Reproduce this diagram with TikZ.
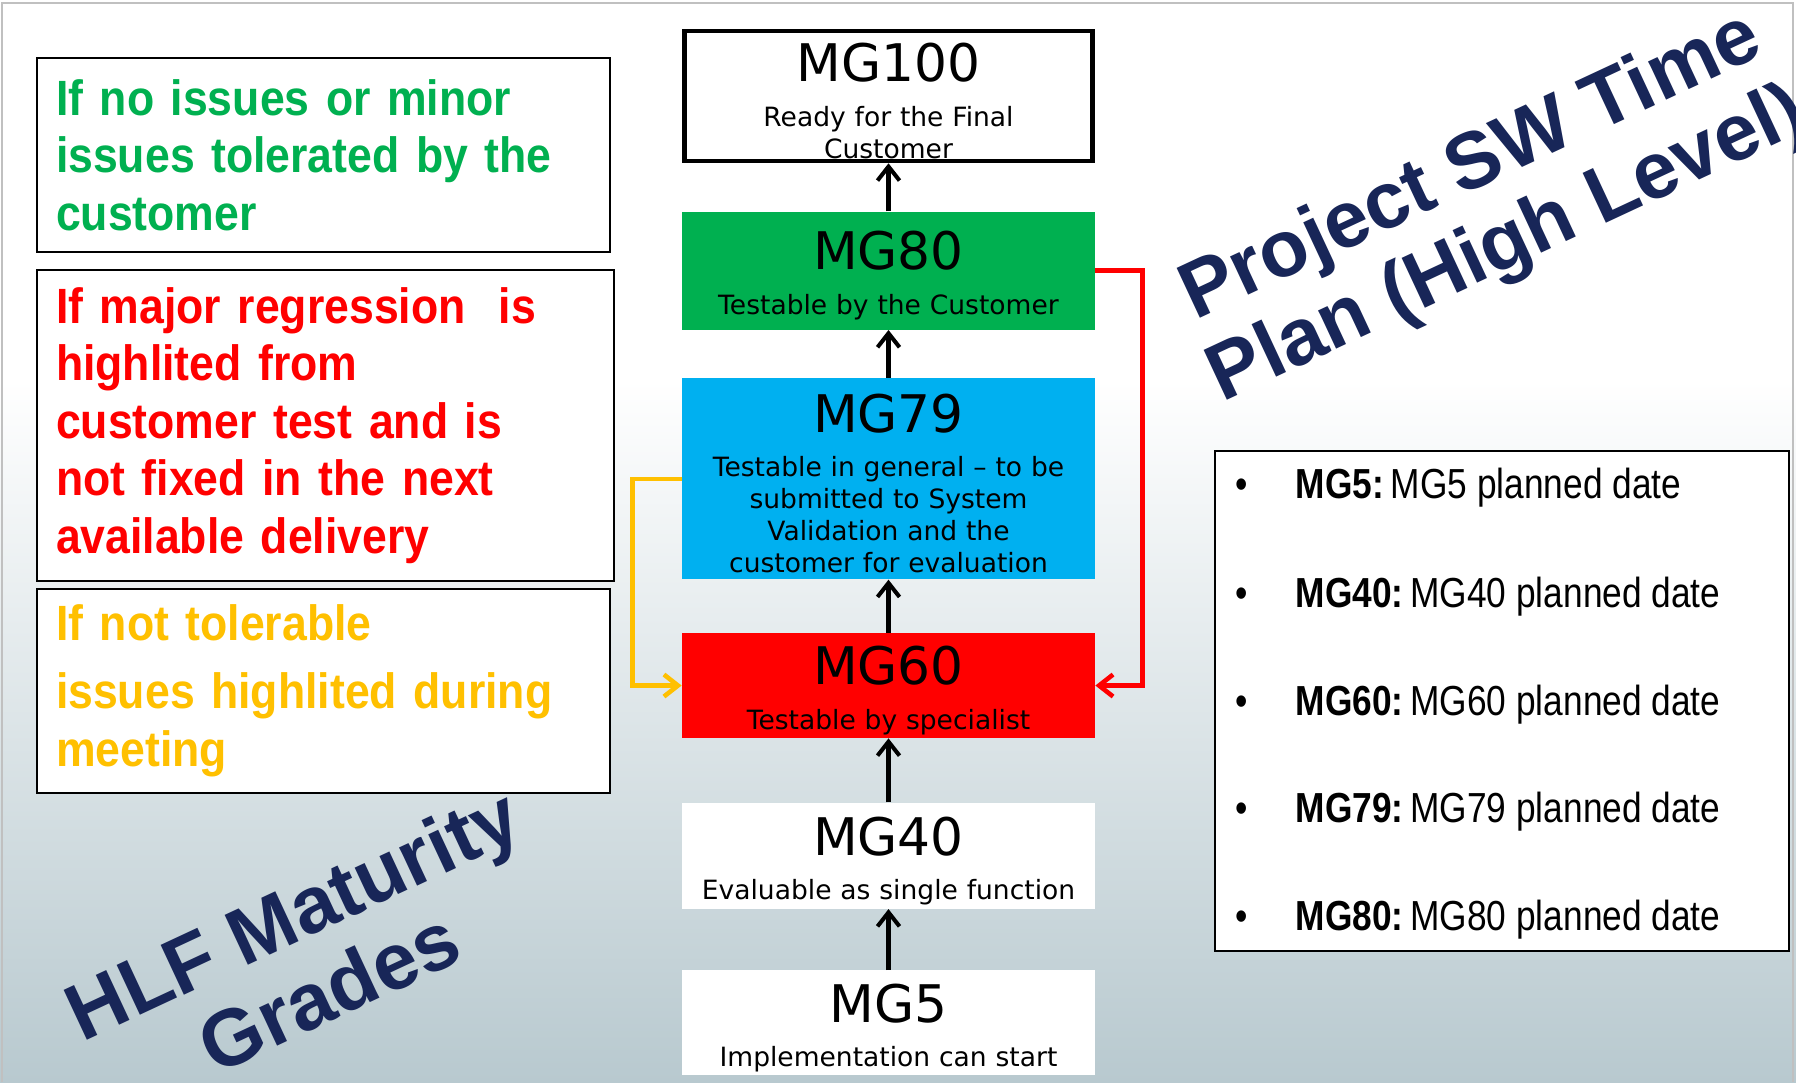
\documentclass[tikz,border=0pt]{standalone}
\usepackage{fontspec}
\setmainfont{Liberation Sans}
\newfontfamily\gradefont{DejaVu Sans}
\newfontfamily\notefont[FakeStretch=0.9]{Liberation Sans}
\newfontfamily\listfont[FakeStretch=0.84]{Liberation Sans}
\usetikzlibrary{positioning,arrows.meta}

\definecolor{mggreen}{HTML}{00B050}
\definecolor{mgblue}{HTML}{00B0F0}
\definecolor{mgred}{HTML}{FF0000}
\definecolor{mgyellow}{HTML}{FFC000}
\definecolor{titlenavy}{RGB}{24,38,88}
\definecolor{slidebase}{RGB}{184,201,207}
\definecolor{slideframe}{RGB}{192,192,192}

% big grade name on the first line of a grade box
\newcommand{\mgname}[1]{{\fontsize{29.5}{30}\selectfont\rule{0pt}{27.5pt}#1}\\[7pt]}

\begin{document}
\begin{tikzpicture}[
  node distance=0.96cm,
  grade/.style={rectangle, minimum width=8.26cm, text width=8.26cm, inner sep=0pt, align=center, font=\gradefont\fontsize{15.1}{18.2}\selectfont},
  note/.style={draw, line width=1pt, fill=white, rectangle, minimum width=11.46cm, text width=10.7cm, inner xsep=0.38cm, align=left, font=\notefont\bfseries\fontsize{28.2}{32.7}\selectfont},
  dateitem/.style={anchor=base west, inner sep=0pt, font=\listfont\fontsize{23.9}{28}\selectfont},
  slidetitle/.style={text=titlenavy, align=center, rotate=25, inner sep=0pt, font=\bfseries\fontsize{45.5}{49}\selectfont},
  climb/.style={-{Straight Barb[length=2.8mm,width=4.4mm]}, line width=2.3pt},
  loopback/.style={-{Straight Barb[length=2.8mm,width=4.4mm]}, line width=2.6pt}
]
  \useasboundingbox (0,0) rectangle (35.92,21.64);

  % slide background and frame
  \fill[white] (0,0) rectangle (35.92,21.64);
  \shade[top color=white, bottom color=slidebase] (0,0) rectangle (35.92,14.04);
  \draw[slideframe, line width=1.6pt] (0.04,0) |- (35.86,21.58) -- (35.86,0);

  % maturity grades, top to bottom
  \node[grade, draw, line width=2.6pt, text width=8.17cm, minimum width=8.17cm, minimum height=2.6cm] (mg100) at (17.77,19.72) {\mgname{MG100}Ready for the Final\\Customer};
  \node[grade, fill=mggreen, minimum height=2.36cm, below=0.96cm of mg100] (mg80) {\mgname{MG80}Testable by the Customer};
  \node[grade, fill=mgblue, minimum height=4.02cm, below=0.96cm of mg80] (mg79) {\mgname{MG79}Testable in general – to be\\submitted to System\\Validation and the\\customer for evaluation};
  \node[grade, fill=mgred, minimum height=2.1cm, below=1.06cm of mg79] (mg60) {\mgname{MG60}Testable by specialist};
  \node[grade, fill=white, minimum height=2.12cm, below=1.28cm of mg60] (mg40) {\mgname{MG40}Evaluable as single function};
  \node[grade, fill=white, minimum height=2.1cm, below=1.22cm of mg40] (mg5) {\mgname{MG5}Implementation can start};

  \draw[climb] (mg5) -- (mg40);
  \draw[climb] (mg40) -- (mg60);
  \draw[climb] (mg60) -- (mg79);
  \draw[climb] (mg79) -- (mg80);
  \draw[climb] (mg80) -- (mg100);

  % fall back to MG60
  \draw[loopback, mgred] (mg80.east) -- ++(0.94,0) |- (mg60.east);
  \draw[loopback, mgyellow] (mg79.west) -- ++(-0.98,0) |- (mg60.west);

  % conditions on the left
  \node[note, text=mggreen, minimum height=3.88cm] (tolerated) at (6.47,18.54) {If no issues or minor\\issues tolerated by the\\customer};
  \node[note, text=mgred, minimum width=11.54cm, text width=10.78cm, minimum height=6.22cm] (regression) at (6.51,13.13) {If major regression~ is\\highlited from\\customer test and is\\not fixed in the next\\available delivery};
  \node[note, text=mgyellow, minimum height=4.08cm] (intolerable) at (6.47,7.82) {If not tolerable\\[6pt]issues highlited during\\meeting};

  % planned dates
  \node[draw, line width=1pt, fill=white, minimum width=11.48cm, minimum height=10cm] (dates) at (30.04,7.62) {};
  \node[dateitem] (date5) at (24.7,11.66) {•\hspace{0.96cm}\textbf{MG5:}\,MG5 planned date};
  \node[dateitem] (date40) at (24.7,9.5) {•\hspace{0.96cm}\textbf{MG40:}\,MG40 planned date};
  \node[dateitem] (date60) at (24.7,7.34) {•\hspace{0.96cm}\textbf{MG60:}\,MG60 planned date};
  \node[dateitem] (date79) at (24.7,5.2) {•\hspace{0.96cm}\textbf{MG79:}\,MG79 planned date};
  \node[dateitem] (date80) at (24.7,3.04) {•\hspace{0.96cm}\textbf{MG80:}\,MG80 planned date};

  % slanted headings
  \node[slidetitle] (plan) at (29.8,17.49) {Project SW Time\\Plan (High Level)};
  \node[slidetitle] (hlf) at (6.21,2.6) {HLF Maturity\\Grades};
\end{tikzpicture}
\end{document}
